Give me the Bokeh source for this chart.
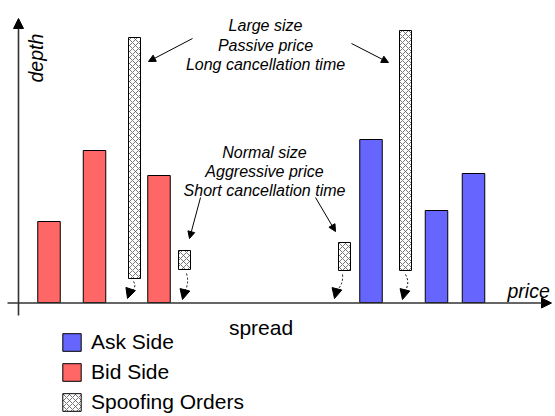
from bokeh.plotting import figure
from bokeh.models import Range1d, Label, Arrow, NormalHead, Legend, LegendItem
from bokeh.embed import file_html
from bokeh.resources import INLINE
import math

# ---- data: price level (horizontal position) and depth ----
bid_price = [48.5, 94, 158.5]
bid_depth = [81, 152, 127]
ask_price = [370.5, 436, 473]
ask_depth = [163, 92, 129]
spoof_price = [134, 184, 344, 405]
spoof_bottom = [24, 33, 32, 32]
spoof_top = [265, 52, 60, 272]

large_text = ["Large size", "Passive price", "Long cancellation time"]
normal_text = ["Normal size", "Aggressive price", "Short cancellation time"]
legend_labels = ["Ask Side", "Bid Side", "Spoofing Orders"]

BASE = 302  # reference pixel row of the price axis


def Y(ry):
    return BASE - ry


W, H = 555, 416
p = figure(width=W, height=H, x_range=Range1d(0, W), y_range=Range1d(Y(H), Y(0)),
           output_backend="svg", toolbar_location=None, min_border=0,
           x_axis_type=None, y_axis_type=None)
p.grid.visible = False
p.outline_line_color = None
p.background_fill_color = "white"
p.border_fill_color = "white"

FONT = "Liberation Sans"

# axes with arrows
p.add_layout(Arrow(end=NormalHead(size=10, fill_color="black", line_color="black"),
                   x_start=7, y_start=Y(302.5), x_end=551, y_end=Y(302.5),
                   line_color="#333333", line_width=1.6))
p.add_layout(Arrow(end=NormalHead(size=10, fill_color="black", line_color="black"),
                   x_start=18, y_start=Y(315), x_end=18, y_end=Y(18),
                   line_color="#333333", line_width=1.6))

ask = p.vbar(x=ask_price, top=ask_depth, bottom=0, width=22.5,
             fill_color="#6666FF", line_color="black", line_width=1)
bid = p.vbar(x=bid_price, top=bid_depth, bottom=0, width=22.5,
             fill_color="#FF6666", line_color="black", line_width=1)
spoof = p.vbar(x=spoof_price, top=spoof_top, bottom=spoof_bottom, width=12,
               fill_color="white", hatch_pattern="diagonal_cross", hatch_scale=6,
               hatch_color="#555555", hatch_weight=0.8,
               line_color="black", line_width=1)

# annotation texts
for i, t in enumerate(large_text):
    p.add_layout(Label(x=265, y=Y(25 + 19.5 * i), text=t, text_align="center",
                       text_baseline="alphabetic", text_font=FONT, text_font_style="italic",
                       text_font_size="16px", text_color="black"))
for i, t in enumerate(normal_text):
    p.add_layout(Label(x=264, y=Y(152 + 19 * i), text=t, text_align="center",
                       text_baseline="alphabetic", text_font=FONT, text_font_style="italic",
                       text_font_size="16px", text_color="black"))

p.add_layout(Label(x=507, y=Y(290.5), text="price", text_font=FONT, text_font_style="italic",
                   text_font_size="19.5px", text_baseline="alphabetic", text_color="black"))
p.add_layout(Label(x=35, y=Y(82), text="depth", text_font=FONT, text_font_style="italic",
                   text_font_size="19.5px", text_baseline="alphabetic", angle=math.pi / 2,
                   text_color="black"))
p.add_layout(Label(x=260.5, y=Y(327), text="spread", text_font=FONT, text_align="center",
                   text_font_size="21px", text_baseline="alphabetic", text_color="black"))

# straight annotation arrows
for (x0, y0, x1, y1) in [(192, 38, 148, 61), (351, 43, 388, 62),
                         (200, 197, 189, 238), (315, 197, 335, 231)]:
    p.add_layout(Arrow(end=NormalHead(size=7, fill_color="black", line_color="black"),
                       x_start=x0, y_start=Y(y0), x_end=x1, y_end=Y(y1),
                       line_color="black", line_width=1))

# small dashed curved arrows (spoof order disappearing)
curves = [
    # start, control, end, tip
    ((133, 281), (137, 287), (129, 292), (127, 298)),
    ((186, 273), (189, 283), (184, 291), (182, 299)),
    ((342, 274), (343, 284), (336, 290), (334, 298)),
    ((405, 274), (410, 283), (404, 291), (402, 299)),
]
for (s, c, e, t) in curves:
    p.quadratic(x0=[s[0]], y0=[Y(s[1])], x1=[e[0]], y1=[Y(e[1])], cx=[c[0]], cy=[Y(c[1])],
                line_color="black", line_width=1, line_dash="2 2")
    p.add_layout(Arrow(end=NormalHead(size=10, fill_color="black", line_color="black"),
                       x_start=e[0], y_start=Y(e[1]), x_end=t[0], y_end=Y(t[1]),
                       line_color="black", line_width=1))

legend = Legend(items=[LegendItem(label=legend_labels[0], renderers=[ask]),
                       LegendItem(label=legend_labels[1], renderers=[bid]),
                       LegendItem(label=legend_labels[2], renderers=[spoof])],
                location=(60, 2), glyph_width=23, glyph_height=22, spacing=6,
                padding=0, margin=0, border_line_color=None, background_fill_alpha=0,
                label_text_font=FONT, label_text_font_size="21px", label_standoff=8,
                label_height=22, label_text_color="black")
p.add_layout(legend)

open("out.html", "w").write(file_html(p, INLINE))
